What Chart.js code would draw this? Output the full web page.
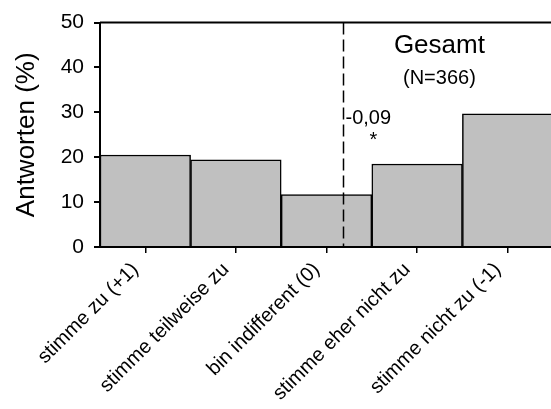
<!DOCTYPE html>
<html>
<head>
<meta charset="utf-8">
<script src="https://cdn.jsdelivr.net/npm/chart.js@4"></script>
<style>
  html, body { margin: 0; padding: 0; background: #fff; overflow: hidden; }
  #wrap { width: 551px; height: 409px; overflow: hidden; }
</style>
</head>
<body>
<div id="wrap"><canvas id="chart" width="553" height="409"></canvas></div>
<script>
// Antworten in Prozent
const categories = ['stimme zu (+1)', 'stimme teilweise zu', 'bin indifferent (0)', 'stimme eher nicht zu', 'stimme nicht zu (-1)'];
const answers = [20.5, 19.4, 11.7, 18.5, 29.7];
const yTicks = [0, 10, 20, 30, 40, 50];
const meanValue = -0.09;   // Mittelwert auf der Skala +1 .. -1
const meanLabel = '-0,09';
const title = 'Gesamt';
const subtitle = '(N=366)';

const font = 'Arial, "Liberation Sans", sans-serif';

// dashed mean line + frame + texts
const extras = {
    id: 'extras',
    afterDatasetsDraw(chart) {
        const ctx = chart.ctx;
        const x = chart.scales.x;
        const y = chart.scales.y;
        const area = chart.chartArea;
        ctx.save();

        // top frame line
        ctx.strokeStyle = '#000';
        ctx.lineWidth = 2;
        ctx.beginPath();
        ctx.moveTo(area.left, area.top);
        ctx.lineTo(area.right, area.top);
        ctx.stroke();

        // mean line: index 0 = +1, last index = -1
        const idx = (1 - meanValue) / 2 * (categories.length - 1);
        const mx = Math.round(x.getPixelForValue(idx)) + 0.5;
        ctx.lineWidth = 1.5;
        ctx.setLineDash([12, 5]);
        ctx.beginPath();
        ctx.moveTo(mx, area.top);
        ctx.lineTo(mx, area.bottom);
        ctx.stroke();
        ctx.setLineDash([]);

        ctx.fillStyle = '#000';
        ctx.textBaseline = 'middle';
        ctx.textAlign = 'left';
        ctx.font = '20px ' + font;
        ctx.fillText(meanLabel, mx + 2, y.getPixelForValue(28.6));
        ctx.textAlign = 'center';
        ctx.fillText('*', mx + 30, y.getPixelForValue(23.8));

        const cx = (x.getPixelForValue(3) + x.getPixelForValue(4)) / 2;
        ctx.font = '26px ' + font;
        ctx.fillText(title, cx - 23, y.getPixelForValue(44.9));
        ctx.font = '20px ' + font;
        ctx.fillText(subtitle, cx - 23, y.getPixelForValue(37.6));
        ctx.restore();
    }
};

new Chart(document.getElementById('chart'), {
    type: 'bar',
    data: {
        labels: categories,
        datasets: [{
            data: answers,
            backgroundColor: '#c0c0c0',
            borderColor: '#000',
            borderWidth: 1.5,
            barPercentage: 1,
            categoryPercentage: 1
        }]
    },
    options: {
        responsive: false,
        animation: false,
        layout: { padding: { top: 20, right: 0, left: 0, bottom: 0 } },
        plugins: {
            legend: { display: false },
            tooltip: { enabled: false }
        },
        scales: {
            x: {
                grid: { offset: false, drawOnChartArea: false, drawTicks: true, tickLength: 6, color: '#000', lineWidth: 1.5 },
                border: { color: '#000', width: 2 },
                ticks: {
                    color: '#000',
                    font: { family: font, size: 20 },
                    maxRotation: 45,
                    minRotation: 45,
                    padding: 5,
                    labelOffset: -10
                },
                afterFit(s) { s.height = 162; }
            },
            y: {
                min: 0,
                max: 50,
                afterBuildTicks(s) { s.ticks = yTicks.map(v => ({ value: v })); },
                grid: { drawOnChartArea: false, drawTicks: true, tickLength: 6, color: '#000', lineWidth: 2 },
                border: { color: '#000', width: 2 },
                ticks: {
                    color: '#000',
                    font: { family: font, size: 21 },
                    padding: 10
                },
                title: {
                    display: true,
                    text: 'Antworten (%)',
                    color: '#000',
                    font: { family: font, size: 26 },
                    padding: { top: 11, bottom: 0 }
                },
                afterFit(s) { s.width = 100; }
            }
        }
    },
    plugins: [extras]
});
</script>
</body>
</html>
